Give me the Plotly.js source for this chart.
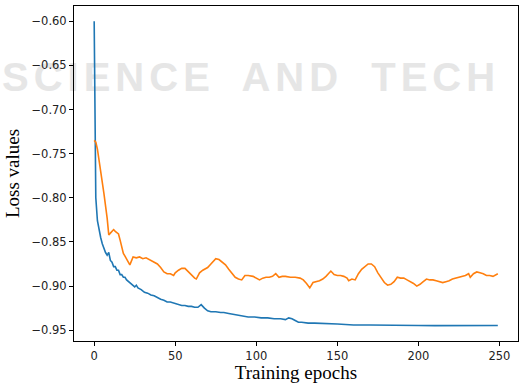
<!DOCTYPE html>
<html>
<head>
<meta charset="utf-8">
<script src="https://cdn.plot.ly/plotly-3.0.1.min.js"></script>
<style>
html,body{margin:0;padding:0;background:#fff;overflow:hidden;}
#wrap{position:relative;width:519px;height:383px;overflow:hidden;}
#wm{position:absolute;left:2px;top:55px;font-family:"Liberation Sans",Arial,sans-serif;font-weight:bold;font-size:40px;letter-spacing:5px;word-spacing:12px;color:#e6e6e6;white-space:nowrap;z-index:0;}
#chart{position:absolute;left:0;top:0;width:519px;height:383px;z-index:1;}
</style>
</head>
<body>
<div id="wrap">
<div id="wm">SCIENCE AND TECH</div>
<div id="chart"></div>
</div>
<script>
// Blue series
const blueEpochs = [0,1,2,3,4,5,6,7,8,9,10,11,12,13,14,15,16,17,18,19,20,22,24,25,26,27,29,31,33,35,37,39,41,43,45,47,50,52,54,56,58,60,62,64,66,68,70,72,75,78,80,83,86,89,92,95,99,103,107,111,115,118,120,122,124,126,128,132,136,140,145,150,155,160,170,180,190,200,210,220,230,240,249];
const blueLoss = [-0.600,-0.800,-0.826,-0.837,-0.845,-0.852,-0.858,-0.862,-0.865,-0.862,-0.871,-0.873,-0.878,-0.878,-0.882,-0.882,-0.887,-0.887,-0.890,-0.890,-0.893,-0.896,-0.899,-0.901,-0.899,-0.902,-0.904,-0.907,-0.908,-0.910,-0.911,-0.913,-0.915,-0.916,-0.918,-0.918,-0.920,-0.921,-0.922,-0.922,-0.923,-0.923,-0.924,-0.924,-0.921,-0.925,-0.928,-0.929,-0.929,-0.930,-0.930,-0.931,-0.932,-0.933,-0.934,-0.935,-0.935,-0.936,-0.936,-0.937,-0.937,-0.938,-0.936,-0.937,-0.939,-0.941,-0.941,-0.942,-0.942,-0.9425,-0.943,-0.943,-0.9435,-0.944,-0.944,-0.9445,-0.9447,-0.9447,-0.9448,-0.9448,-0.9447,-0.9448,-0.9447];

// Orange series
const orangeEpochs = [0,1,2,4,6,8,9,10,12,13,15,16,18,19,21,22,24,26,28,30,32,35,37,39,41,43,45,47,49,50,52,54,56,58,60,62,63,65,67,70,72,75,77,79,81,83,85,87,89,91,93,95,98,100,102,104,106,108,110,112,114,116,118,121,124,127,129,131,133,135,137,139,141,143,146,148,150,152,154,156,157,159,161,163,165,167,169,171,173,175,177,179,181,183,185,187,189,191,193,195,197,199,201,203,205,207,209,211,213,215,217,219,221,223,225,227,229,231,232,234,236,238,240,242,244,246,248,249];
const orangeLoss = [-0.735,-0.737,-0.745,-0.769,-0.795,-0.823,-0.842,-0.840,-0.836,-0.838,-0.841,-0.848,-0.863,-0.866,-0.873,-0.876,-0.867,-0.868,-0.867,-0.869,-0.868,-0.871,-0.873,-0.875,-0.879,-0.884,-0.886,-0.886,-0.888,-0.885,-0.882,-0.880,-0.880,-0.884,-0.887,-0.891,-0.892,-0.885,-0.882,-0.879,-0.875,-0.869,-0.870,-0.873,-0.876,-0.881,-0.885,-0.890,-0.892,-0.893,-0.888,-0.888,-0.889,-0.891,-0.893,-0.891,-0.890,-0.890,-0.889,-0.886,-0.890,-0.889,-0.889,-0.890,-0.890,-0.891,-0.893,-0.897,-0.902,-0.896,-0.895,-0.894,-0.892,-0.889,-0.883,-0.887,-0.888,-0.888,-0.889,-0.891,-0.894,-0.892,-0.893,-0.886,-0.881,-0.878,-0.875,-0.875,-0.878,-0.885,-0.890,-0.896,-0.899,-0.898,-0.895,-0.890,-0.891,-0.891,-0.893,-0.895,-0.897,-0.900,-0.898,-0.895,-0.892,-0.893,-0.893,-0.894,-0.895,-0.896,-0.895,-0.894,-0.892,-0.891,-0.890,-0.889,-0.888,-0.886,-0.890,-0.886,-0.884,-0.885,-0.886,-0.888,-0.888,-0.889,-0.887,-0.886];

const xTicks = [0,50,100,150,200,250];
const yTicks = [-0.95,-0.90,-0.85,-0.80,-0.75,-0.70,-0.65,-0.60];
const yTickText = ['\u22120.95','\u22120.90','\u22120.85','\u22120.80','\u22120.75','\u22120.70','\u22120.65','\u22120.60'];

const traces = [
  {x: blueEpochs, y: blueLoss, mode: 'lines', line: {color: '#1f77b4', width: 1.6}, hoverinfo: 'skip'},
  {x: orangeEpochs, y: orangeLoss, mode: 'lines', line: {color: '#ff7f0e', width: 1.6}, hoverinfo: 'skip'}
];

const tickFont = {family: 'DejaVu Sans, sans-serif', size: 11.5, color: '#222'};
const layout = {
  width: 519, height: 383,
  margin: {l: 74, r: 1, t: 6, b: 42},
  paper_bgcolor: 'rgba(0,0,0,0)',
  plot_bgcolor: 'rgba(0,0,0,0)',
  showlegend: false,
  xaxis: {
    range: [-12.45, 261.45],
    tickvals: xTicks,
    ticks: 'outside', ticklen: 4, tickwidth: 1, tickcolor: '#000',
    showline: true, linecolor: '#000', linewidth: 1, mirror: true,
    showgrid: false, zeroline: false,
    tickfont: tickFont,
    title: {text: 'Training epochs', font: {family: 'Liberation Serif, Times New Roman, serif', size: 19, color: '#000'}, standoff: 4},
    automargin: false
  },
  yaxis: {
    range: [-0.9622, -0.5828],
    tickvals: yTicks, ticktext: yTickText,
    ticks: 'outside', ticklen: 4, tickwidth: 1, tickcolor: '#000',
    showline: true, linecolor: '#000', linewidth: 1, mirror: true,
    showgrid: false, zeroline: false,
    tickfont: tickFont,
    title: {text: 'Loss values', font: {family: 'Liberation Serif, Times New Roman, serif', size: 19, color: '#000'}, standoff: 6},
    automargin: false
  }
};

Plotly.newPlot('chart', traces, layout, {staticPlot: true, displayModeBar: false});
</script>
</body>
</html>
